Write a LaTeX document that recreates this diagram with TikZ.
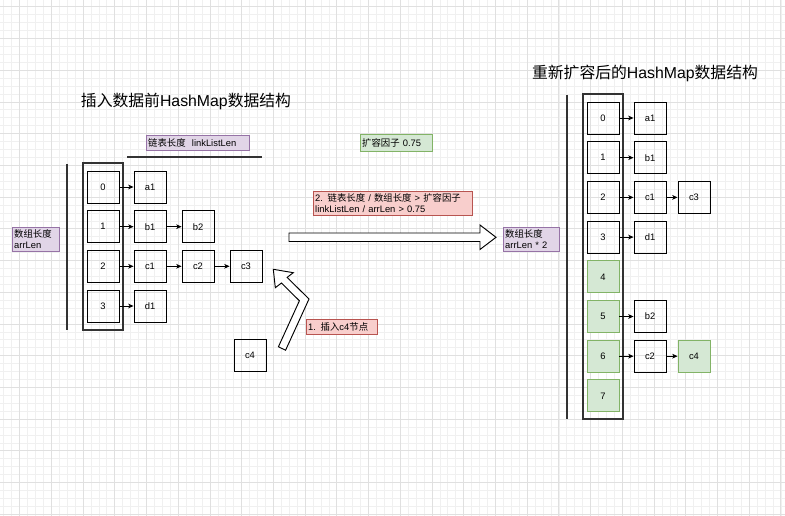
\documentclass[tikz,border=0pt]{standalone}
\usepackage{fontspec}
\setmainfont{Liberation Sans}
\newfontfamily\zhfont{Noto Sans CJK SC}
\newcommand{\zh}[1]{{\zhfont #1}}
\usepackage{xcolor}
\usetikzlibrary{arrows.meta}

\definecolor{purplefill}{HTML}{E1D5E7}
\definecolor{purpleline}{HTML}{9673A6}
\definecolor{greenfill}{HTML}{D5E8D4}
\definecolor{greenline}{HTML}{82B366}
\definecolor{redfill}{HTML}{F8CECC}
\definecolor{redline}{HTML}{B85450}
\newcommand{\pxu}{0.03cm}

\tikzset{
  cell/.style={draw, line width=0.8pt, minimum width=32*\pxu, minimum height=32*\pxu,
    inner sep=0pt, font=\fontsize{8}{9}\selectfont},
  newcell/.style={cell, draw=greenline, fill=greenfill},
  frame/.style={draw=black!80, line width=0.9pt, minimum width=40*\pxu, inner sep=0pt},
  note/.style={anchor=north west, inner xsep=2*\pxu, inner ysep=0pt, align=left,
    font=\fontsize{8}{9.5}\selectfont},
  purplenote/.style={note, draw=purpleline, fill=purplefill},
  greennote/.style={note, draw=greenline, fill=greenfill},
  rednote/.style={note, draw=redline, fill=redfill},
  title/.style={font=\fontsize{13.5}{16}\selectfont},
  link/.style={-{Stealth[length=4.5pt,width=4pt,inset=1.2pt]}, line width=0.7pt},
  bigarrow/.style={draw, fill=white, line width=0.8pt},
  gridminor/.style={black!6, line width=0.4pt},
  gridmajor/.style={black!12, line width=0.5pt}
}

\begin{document}
\begin{tikzpicture}[x=0.03cm, y=-0.03cm]
\useasboundingbox (0,0) rectangle (785,516);
% background grid
\foreach \i in {0,...,98} \draw[gridminor] ({3.64+7.93*\i},0) -- ({3.64+7.93*\i},516);
\foreach \j in {0,...,64} \draw[gridminor] (0,{6.64+7.93*\j}) -- (785,{6.64+7.93*\j});
\foreach \i in {0,...,24} \draw[gridmajor] ({19.5+31.72*\i},0) -- ({19.5+31.72*\i},516);
\foreach \j in {0,...,16} \draw[gridmajor] (0,{6.64+31.72*\j}) -- (785,{6.64+31.72*\j});

% left: before insert
\node[title] (lefttitle) at (186,101) {\zh{插入数据前}HashMap\zh{数据结构}};
\node[frame, minimum height=167*\pxu] (leftarr) at (103,246.5) {};
\draw[line width=0.9pt, black!80] (67,164) -- (67,330);
\draw[line width=0.9pt, black!80] (127,157) -- (262,157);
\node[purplenote, text width=99*\pxu, minimum height=15*\pxu] (listlen) at (146,135) {\zh{链表长度}\ \ linkListLen};
\node[purplenote, text width=43*\pxu, minimum height=24*\pxu] (arrlen) at (12,227) {\zh{数组长度}\\arrLen};

\foreach \i/\y in {0/187,1/226.7,2/266.3,3/306}
  \node[cell] (l\i) at (103,\y) {\i};
\node[cell] (a1) at (150,187) {a1};
\node[cell] (b1) at (150,226.7) {b1};
\node[cell] (b2) at (198,226.7) {b2};
\node[cell] (c1) at (150,266.3) {c1};
\node[cell] (c2) at (198,266.3) {c2};
\node[cell] (c3) at (246,266.3) {c3};
\node[cell] (d1) at (150,306) {d1};
\node[cell] (c4) at (250,355.5) {c4};

\draw[link] (l0) -- (a1);
\draw[link] (l1) -- (b1);
\draw[link] (b1) -- (b2);
\draw[link] (l2) -- (c1);
\draw[link] (c1) -- (c2);
\draw[link] (c2) -- (c3);
\draw[link] (l3) -- (d1);

% insert c4
\draw[bigarrow] (278.4,346.8) -- (299.4,300.8) -- (281.5,283.0) -- (275.3,287.7)
  -- (273.3,269.3) -- (293.3,272.7) -- (287.1,277.4) -- (309.0,299.0)
  -- (285.6,350.2) -- cycle;
\node[rednote, text width=67*\pxu, minimum height=15*\pxu] (insertnote) at (306,319) {1. \zh{插入}c4\zh{节点}};

% resize
\node[greennote, text width=68*\pxu, minimum height=17*\pxu] (factor) at (360,134) {\zh{扩容因子} 0.75};
\node[rednote, text width=155*\pxu, minimum height=24*\pxu] (rule) at (313,191)
  {2. \zh{链表长度} / \zh{数组长度} > \zh{扩容因子}\\linkListLen / arrLen > 0.75};
\draw[bigarrow] (289,233) -- (480,233) -- (480,225) -- (496,237.3) -- (480,249.5)
  -- (480,241.5) -- (289,241.5) -- cycle;
\node[purplenote, text width=52*\pxu, minimum height=24*\pxu] (arrlen2) at (503,227) {\zh{数组长度}\\arrLen * 2};

% right: after resize
\node[title] (righttitle) at (645,73) {\zh{重新扩容后的}HashMap\zh{数据结构}};
\node[frame, minimum height=325*\pxu] (rightarr) at (603,256.5) {};
\draw[line width=0.9pt, black!80] (567,95) -- (567,419);

\foreach \i/\y in {0/118,1/157.7,2/197.4,3/237.1}
  \node[cell] (r\i) at (603,\y) {\i};
\foreach \i/\y in {4/276.8,5/316.5,6/356.2,7/395.9}
  \node[newcell] (r\i) at (603,\y) {\i};
\node[cell] (ra1) at (650,118) {a1};
\node[cell] (rb1) at (650,157.7) {b1};
\node[cell] (rc1) at (650,197.4) {c1};
\node[cell] (rc3) at (694,197.4) {c3};
\node[cell] (rd1) at (650,237.1) {d1};
\node[cell] (rb2) at (650,316.5) {b2};
\node[cell] (rc2) at (650,356.2) {c2};
\node[newcell] (rc4) at (694,356.2) {c4};

\draw[link] (r0) -- (ra1);
\draw[link] (r1) -- (rb1);
\draw[link] (r2) -- (rc1);
\draw[link] (rc1) -- (rc3);
\draw[link] (r3) -- (rd1);
\draw[link] (r5) -- (rb2);
\draw[link] (r6) -- (rc2);
\draw[link] (rc2) -- (rc4);
\end{tikzpicture}
\end{document}
